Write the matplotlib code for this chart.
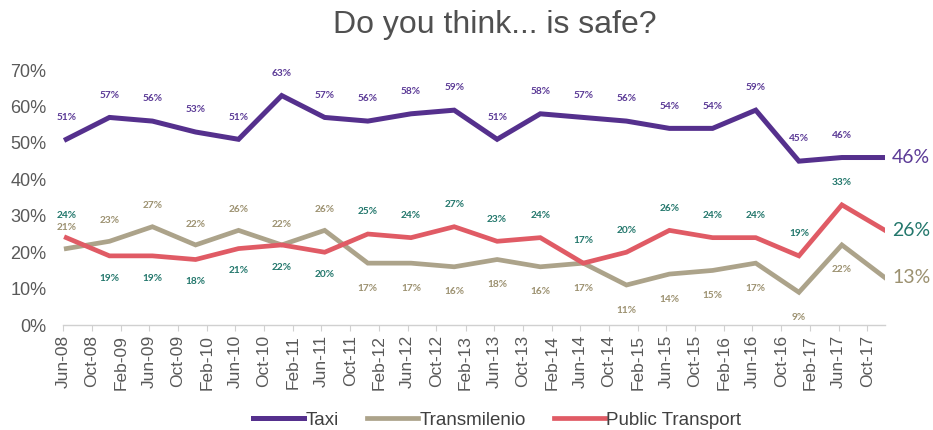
import matplotlib
matplotlib.use("Agg")
import matplotlib.pyplot as plt
import matplotlib.dates as mdates
import pandas as pd

# survey waves (semiannual)
dates = ['2008-06-15', '2008-12-15', '2009-06-15', '2009-12-15', '2010-06-15',
         '2010-12-15', '2011-06-15', '2011-12-15', '2012-06-15', '2012-12-15',
         '2013-06-15', '2013-12-15', '2014-06-15', '2014-12-15', '2015-06-15',
         '2015-12-15', '2016-06-15', '2016-12-15', '2017-06-15', '2017-12-15']
taxi = [51, 57, 56, 53, 51, 63, 57, 56, 58, 59, 51, 58, 57, 56, 54, 54, 59, 45, 46, 46]
transmilenio = [21, 23, 27, 22, 26, 22, 26, 17, 17, 16, 18, 16, 17, 11, 14, 15, 17, 9, 22, 13]
public_transport = [24, 19, 19, 18, 21, 22, 20, 25, 24, 27, 23, 24, 17, 20, 26, 24, 24, 19, 33, 26]

# which side the data labels sit on (1 = above, 0 = below)
pt_label_up = [1, 0, 0, 0, 0, 0, 0, 1, 1, 1, 1, 1, 1, 1, 1, 1, 1, 1, 1]
tm_label_up = [1, 1, 1, 1, 1, 1, 1, 0, 0, 0, 0, 0, 0, 0, 0, 0, 0, 0, 0]

x = pd.to_datetime(dates)

c_taxi = '#55308d'
c_tm = '#aca38a'
c_pt = '#e05b65'
c_taxi_lbl = '#5b3a96'
c_tm_lbl = '#9c9170'
c_pt_lbl = '#23776c'

plt.rcParams['font.family'] = ['Liberation Sans', 'DejaVu Sans']

fig = plt.figure(figsize=(9.33, 4.30), dpi=100)
ax = fig.add_axes([0.0675, 0.244, 0.8811, 0.593])

ax.plot(x, taxi, color=c_taxi, lw=3.6, label='Taxi', solid_joinstyle='miter')
ax.plot(x, transmilenio, color=c_tm, lw=3.4, label='Transmilenio', solid_joinstyle='miter')
ax.plot(x, public_transport, color=c_pt, lw=3.4, label='Public Transport', solid_joinstyle='miter')

lbl_font = dict(fontsize=7.3, fontweight='bold', family=['Lato', 'DejaVu Sans'],
                ha='center', va='center')
n = len(dates)
for i in range(n - 1):
    ax.annotate(f'{taxi[i]}%', (x[i], taxi[i]), xytext=(0, 16),
                textcoords='offset points', color=c_taxi_lbl, **lbl_font)
    ax.annotate(f'{public_transport[i]}%', (x[i], public_transport[i]),
                xytext=(0, 16 if pt_label_up[i] else -16), textcoords='offset points',
                color=c_pt_lbl, **lbl_font)
    ax.annotate(f'{transmilenio[i]}%', (x[i], transmilenio[i]),
                xytext=(0, 15 if tm_label_up[i] else -18), textcoords='offset points',
                color=c_tm_lbl, **lbl_font)

end_font = dict(fontsize=14, family=['Lato', 'DejaVu Sans'], ha='left', va='center')
ax.annotate(f'{taxi[-1]}%', (x[-1], taxi[-1]), xytext=(5, 0),
            textcoords='offset points', color=c_taxi_lbl, **end_font)
ax.annotate(f'{public_transport[-1]}%', (x[-1], public_transport[-1]), xytext=(5, 0),
            textcoords='offset points', color=c_pt_lbl, **end_font)
ax.annotate(f'{transmilenio[-1]}%', (x[-1], transmilenio[-1]), xytext=(5, 0),
            textcoords='offset points', color=c_tm_lbl, **end_font)

ax.set_ylim(0, 70)
ax.set_yticks(range(0, 71, 10))
ax.set_yticklabels([f'{v}%' for v in range(0, 71, 10)])
ax.set_xlim(pd.Timestamp('2008-06-01'), pd.Timestamp('2017-12-15'))
ax.xaxis.set_major_locator(mdates.MonthLocator(bymonth=(2, 6, 10)))
ax.xaxis.set_major_formatter(mdates.DateFormatter('%b-%y'))
plt.setp(ax.get_xticklabels(), rotation=90)

for s in ['top', 'right', 'left']:
    ax.spines[s].set_visible(False)
ax.spines['bottom'].set_color('#d0d0d0')
ax.spines['bottom'].set_linewidth(1.0)
ax.tick_params(axis='y', length=0, pad=12, labelsize=13, labelcolor='#595959')
ax.tick_params(axis='x', length=4, color='#d0d0d0', pad=3, labelsize=12.5,
               labelcolor='#595959')

fig.text(0.53, 0.942, 'Do you think... is safe?', ha='center', va='center',
         fontsize=23, color='#505050')
fig.legend(loc='center', bbox_to_anchor=(0.533, 0.023), ncol=3, frameon=False,
           fontsize=13.5, handlelength=2.7, handletextpad=0.1, columnspacing=1.5,
           labelcolor='#404040')

fig.savefig('out.png', dpi=100)
